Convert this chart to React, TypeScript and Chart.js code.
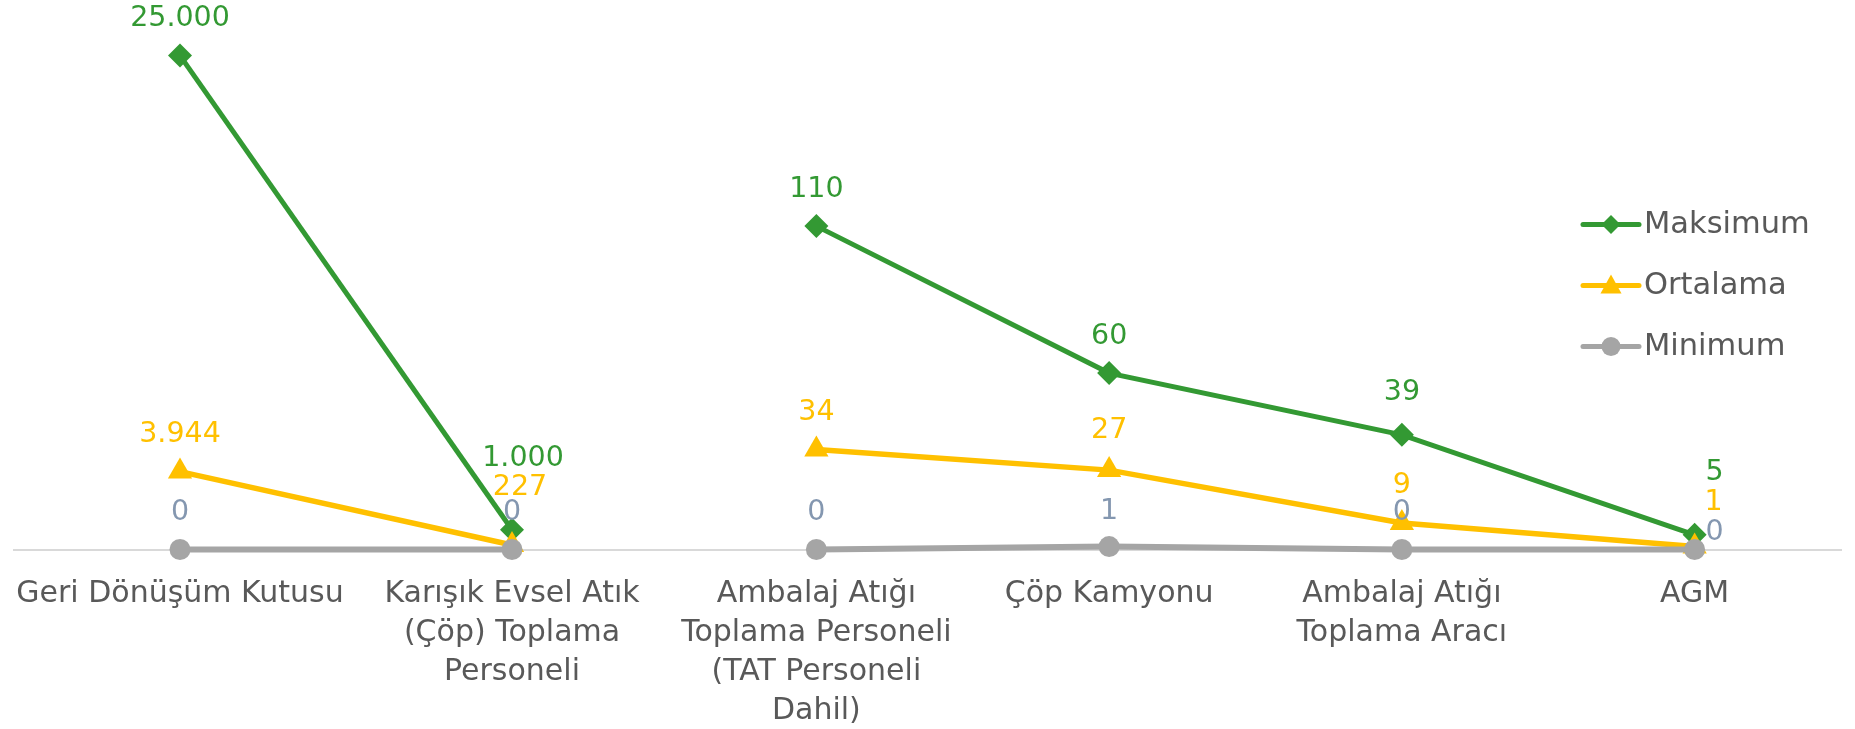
import React, { useEffect, useRef } from "react";
import { Chart, registerables } from "chart.js";

Chart.register(...registerables);

// ---------- data ----------
const seriesNames = ["Maksimum", "Ortalama", "Minimum"];

const leftCategories = [
  ["Geri Dönüşüm Kutusu"],
  ["Karışık Evsel Atık", "(Çöp) Toplama", "Personeli"],
];
const leftMax = [25000, 1000];
const leftAvg = [3944, 227];
const leftMin = [0, 0];

const rightCategories = [
  ["Ambalaj Atığı", "Toplama Personeli", "(TAT Personeli", "Dahil)"],
  ["Çöp Kamyonu"],
  ["Ambalaj Atığı", "Toplama Aracı"],
  ["AGM"],
];
const rightMax = [110, 60, 39, 5];
const rightAvg = [34, 27, 9, 1];
const rightMin = [0, 1, 0, 0];

const leftScaleMax = 25000;
const rightScaleMax = 168;

// ---------- styles ----------
const FONT = "'DejaVu Sans', 'Noto Sans', sans-serif";
const GREEN = "#339933";
const YELLOW = "#FFC000";
const GRAY = "#A5A5A5";
const MINLABEL = "#8497B0";
const AXISTEXT = "#595959";
const W = 1855;
const H = 729;

const fmt = (v: number) =>
  String(Math.round(v)).replace(/\B(?=(\d{3})+(?!\d))/g, ".");

const valueLabelPlugin = {
  id: "valueLabels",
  afterDatasetsDraw(chart: any, _args: any, opts: any) {
    const ctx = chart.ctx;
    ctx.save();
    ctx.font = `${opts.size}px ${FONT}`;
    ctx.textAlign = "center";
    ctx.textBaseline = "middle";
    chart.data.datasets.forEach((ds: any, di: number) => {
      const meta = chart.getDatasetMeta(di);
      meta.data.forEach((pt: any, i: number) => {
        const n = (opts.nudges && opts.nudges[`${di}:${i}`]) || {
          dx: 0,
          dy: opts.dy,
        };
        ctx.fillStyle = ds.labelColor;
        ctx.fillText(fmt(ds.data[i]), pt.x + n.dx, pt.y + n.dy);
      });
    });
    ctx.restore();
  },
};

const customLegendPlugin = {
  id: "customLegend",
  afterDraw(chart: any, _args: any, opts: any) {
    if (!opts || !opts.show) return;
    const ctx = chart.ctx;
    ctx.save();
    const styles = [
      { color: GREEN, shape: "diamond" },
      { color: YELLOW, shape: "triangle" },
      { color: GRAY, shape: "circle" },
    ];
    seriesNames.forEach((name, i) => {
      const y = opts.top + i * opts.gap;
      const st = styles[i];
      ctx.strokeStyle = st.color;
      ctx.fillStyle = st.color;
      ctx.lineWidth = 5;
      ctx.lineCap = "round";
      ctx.beginPath();
      ctx.moveTo(opts.x, y);
      ctx.lineTo(opts.x + opts.lineLen, y);
      ctx.stroke();
      const cx = opts.x + opts.lineLen / 2;
      ctx.beginPath();
      if (st.shape === "diamond") {
        const r = 9.5;
        ctx.moveTo(cx, y - r);
        ctx.lineTo(cx + r, y);
        ctx.lineTo(cx, y + r);
        ctx.lineTo(cx - r, y);
        ctx.closePath();
      } else if (st.shape === "triangle") {
        ctx.moveTo(cx, y - 11);
        ctx.lineTo(cx + 10.5, y + 8);
        ctx.lineTo(cx - 10.5, y + 8);
        ctx.closePath();
      } else {
        ctx.arc(cx, y, 9.5, 0, Math.PI * 2);
      }
      ctx.fill();
      ctx.fillStyle = AXISTEXT;
      ctx.font = `30.5px ${FONT}`;
      ctx.textAlign = "left";
      ctx.textBaseline = "middle";
      ctx.fillText(name, opts.x + opts.lineLen + 5, y + 1);
    });
    ctx.restore();
  },
};

function makeDatasets(maxV: number[], avgV: number[], minV: number[]) {
  return [
    {
      label: seriesNames[0],
      data: maxV,
      borderColor: GREEN,
      backgroundColor: GREEN,
      borderWidth: 5,
      pointStyle: "rectRot",
      pointRadius: 12,
      pointBorderWidth: 0,
      labelColor: GREEN,
      order: 2,
      clip: false,
    },
    {
      label: seriesNames[1],
      data: avgV,
      borderColor: YELLOW,
      backgroundColor: YELLOW,
      borderWidth: 5.5,
      pointStyle: "triangle",
      pointRadius: 14,
      pointBorderWidth: 0,
      labelColor: YELLOW,
      order: 1,
      clip: false,
    },
    {
      label: seriesNames[2],
      data: minV,
      borderColor: GRAY,
      backgroundColor: GRAY,
      borderWidth: 6,
      pointStyle: "circle",
      pointRadius: 10.5,
      pointBorderWidth: 0,
      labelColor: MINLABEL,
      order: 0,
      clip: false,
    },
  ];
}

function makeConfig(
  labels: any[],
  datasets: any[],
  yMax: number,
  padding: any,
  nudges: any,
  legend: any
): any {
  return {
    type: "line",
    data: { labels, datasets },
    plugins: [valueLabelPlugin, customLegendPlugin],
    options: {
      animation: false,
      responsive: false,
      maintainAspectRatio: false,
      layout: { padding },
      elements: { line: { tension: 0 } },
      plugins: {
        legend: { display: false },
        tooltip: { enabled: false },
        valueLabels: { size: 28.5, dy: -37, nudges },
        customLegend: legend,
      },
      scales: {
        x: {
          type: "category",
          offset: true,
          grid: { display: false, drawTicks: false },
          border: { display: true, color: "#D9D9D9", width: 2 },
          ticks: {
            color: AXISTEXT,
            font: { family: FONT, size: 30, lineHeight: 1.3 },
            padding: 25,
            maxRotation: 0,
            minRotation: 0,
            autoSkip: false,
          },
          afterFit: (scale: any) => {
            scale.height = H - 549.5;
            scale.paddingLeft = 0;
            scale.paddingRight = 0;
          },
        },
        y: {
          display: false,
          min: 0,
          max: yMax,
        },
      },
    },
  };
}

export default function App() {
  const leftRef = useRef<HTMLCanvasElement>(null);
  const rightRef = useRef<HTMLCanvasElement>(null);

  useEffect(() => {
    const left = new Chart(
      leftRef.current as HTMLCanvasElement,
      makeConfig(
        leftCategories,
        makeDatasets(leftMax, leftAvg, leftMin),
        leftScaleMax,
        { left: 8, right: W - 678, top: 55.6, bottom: 0 },
        {
          "0:1": { dx: 11, dy: -71 },
          "1:1": { dx: 8, dy: -57.5 },
        },
        { show: false }
      )
    );
    const right = new Chart(
      rightRef.current as HTMLCanvasElement,
      makeConfig(
        rightCategories,
        makeDatasets(rightMax, rightAvg, rightMin),
        rightScaleMax,
        { left: 670, right: 5, top: 55.6, bottom: 0 },
        {
          "0:2": { dx: 0, dy: -42 },
          "0:3": { dx: 20, dy: -62 },
          "1:1": { dx: 0, dy: -40 },
          "1:3": { dx: 19, dy: -43.5 },
          "2:1": { dx: 0, dy: -35 },
          "2:3": { dx: 20, dy: -16.5 },
        },
        { show: true, x: 1583, lineLen: 56, top: 224.5, gap: 61 }
      )
    );
    return () => {
      left.destroy();
      right.destroy();
    };
  }, []);

  const canvasStyle: React.CSSProperties = {
    position: "absolute",
    left: 0,
    top: 0,
    width: W,
    height: H,
  };

  return (
    <div
      style={{
        position: "fixed",
        left: 0,
        top: 0,
        width: W,
        height: H,
        background: "#FFFFFF",
      }}
    >
      <canvas ref={leftRef} width={W} height={H} style={canvasStyle} />
      <canvas ref={rightRef} width={W} height={H} style={canvasStyle} />
    </div>
  );
}
